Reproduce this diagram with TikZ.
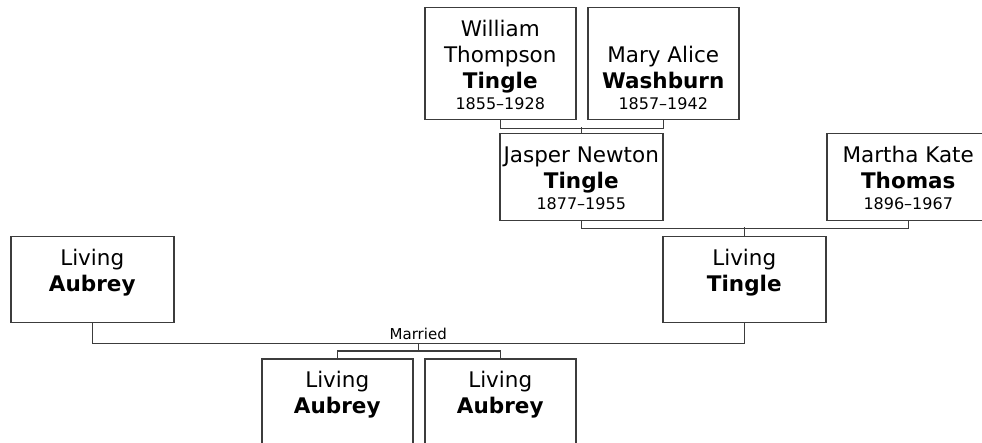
\documentclass[tikz,border=0pt]{standalone}
\usepackage{fontspec}
\setmainfont{DejaVu Sans}
\usetikzlibrary{calc}
\definecolor{3c3c3c}{HTML}{3C3C3C}
\newcommand{\card}[3]{\parbox[t][#2pt][t]{#1pt}{\centering\fontsize{21.5}{26}\selectfont\rule{0pt}{29pt}#3}}
\newcommand{\yrs}[1]{\\[-5pt]{\fontsize{16}{26}\selectfont #1}}
\begin{document}
\begin{tikzpicture}[x=1pt,y=-1pt,
    person/.style={draw=3c3c3c,line width=1.5pt,inner sep=0,anchor=north west},
    link/.style={draw=3c3c3c,line width=1.5pt}]
    \newcommand{\NW}{151}
    \newcommand{\BW}{163}
    \useasboundingbox(0,0)rectangle(982,443);
    \node[person](william)at(424,7){\card{\NW}{112}{William\\Thompson\\\textbf{Tingle}\yrs{1855--1928}}};
    \node[person](mary)at(587,7){\card{\NW}{112}{\mbox{}\\Mary Alice\\\textbf{Washburn}\yrs{1857--1942}}};
    \node[person](jasper)at(499,133){\card{\BW}{87}{Jasper Newton\\\textbf{Tingle}\yrs{1877--1955}}};
    \node[person](martha)at(826,133){\card{\BW}{87}{Martha Kate\\\textbf{Thomas}\yrs{1896--1967}}};
    \node[person](tingle)at(662,236){\card{\BW}{86}{Living\\\textbf{Tingle}}};
    \node[person](aubrey)at(10,236){\card{\BW}{86}{Living\\\textbf{Aubrey}}};
    \node[person](kidA)at(261,358){\card{\NW}{86}{Living\\\textbf{Aubrey}}};
    \node[person](kidB)at(424,358){\card{\NW}{86}{Living\\\textbf{Aubrey}}};
    \draw[link](william.south)--++(0,8)-|(mary.south);
    \draw[link](jasper.north)--++(0,-6);
    \draw[link](jasper.south)--++(0,7)-|(martha.south);
    \draw[link](tingle.north)--++(0,-9);
    \coordinate(M)at($(aubrey.south)!.5!(tingle.south)+(0,20)$);
    \draw[link](aubrey.south)|-(M)-|(tingle.south);
    \node(married)[anchor=base,inner sep=0,font=\fontsize{15}{18}\selectfont]at($(M)+(0,-3.5)$){Married};
    \draw[link](M)--++(0,9);
    \draw[link](kidA.north)--++(0,-7)-|(kidB.north);
\end{tikzpicture}
\end{document}
